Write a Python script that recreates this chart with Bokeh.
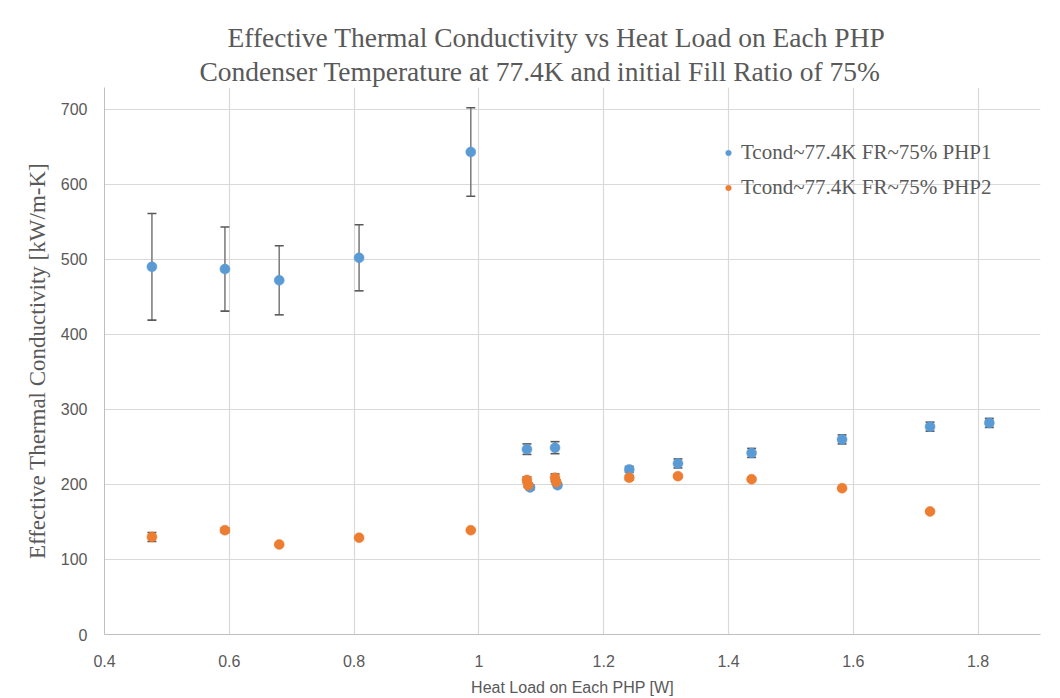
from bokeh.plotting import figure
from bokeh.models import (ColumnDataSource, Whisker, TeeHead, Legend, LegendItem,
                          Title, Range1d, FixedTicker)
from bokeh.embed import file_html
from bokeh.resources import INLINE

# ---- data ----
php1_x = [0.476, 0.593, 0.680, 0.808, 0.987, 1.077, 1.082, 1.122, 1.126, 1.241, 1.319, 1.437, 1.582, 1.723, 1.818]
php1_y = [490, 487, 472, 502, 643, 247, 196, 249, 199, 220, 228, 242, 260, 277, 282]
php1_err = [71, 56, 46, 44, 59, 7, 3, 8, 3, 4, 6, 6, 6, 6, 6]

php2_x = [0.476, 0.593, 0.680, 0.808, 0.987, 1.077, 1.079, 1.122, 1.124, 1.241, 1.319, 1.437, 1.582, 1.723]
php2_y = [130, 139, 120, 129, 139, 206, 199, 209, 203, 209, 211, 207, 195, 164]
php2_err = [6, 3, 0, 0, 0, 4, 3, 5, 3, 3, 2, 2, 0, 0]

x_ticks = [0.4, 0.6, 0.8, 1.0, 1.2, 1.4, 1.6, 1.8]
x_tick_labels = ["0.4", "0.6", "0.8", "1", "1.2", "1.4", "1.6", "1.8"]
y_ticks = [0, 100, 200, 300, 400, 500, 600, 700]

series1_name = "Tcond~77.4K FR~75% PHP1"
series2_name = "Tcond~77.4K FR~75% PHP2"
title_line1 = "Effective Thermal Conductivity vs Heat Load on Each PHP"
title_line2 = "Condenser Temperature at 77.4K and initial Fill Ratio of 75%"
x_label = "Heat Load on Each PHP [W]"
y_label = "Effective Thermal Conductivity [kW/m-K]"

BLUE = "#5B9BD5"
ORANGE = "#ED7D31"
GREY_TXT = "#595959"

src1 = ColumnDataSource(dict(x=php1_x, y=php1_y,
                             lo=[a - b for a, b in zip(php1_y, php1_err)],
                             hi=[a + b for a, b in zip(php1_y, php1_err)]))
src2 = ColumnDataSource(dict(x=php2_x, y=php2_y,
                             lo=[a - b for a, b in zip(php2_y, php2_err)],
                             hi=[a + b for a, b in zip(php2_y, php2_err)]))

p = figure(width=1060, height=698, output_backend="svg", toolbar_location=None,
           x_range=Range1d(0.4, 1.9), y_range=Range1d(0, 729),
           min_border_left=104, min_border_right=20, min_border_top=87,
           min_border_bottom=63)
p.outline_line_color = None
p.background_fill_color = "white"
p.border_fill_color = "white"

# titles (added bottom line first)
t2 = Title(text=title_line2, align="left", text_font="Liberation Serif",
           text_font_size="27.5px", text_font_style="normal", text_color=GREY_TXT,
           standoff=2, offset=95)
t1 = Title(text=title_line1, align="left", text_font="Liberation Serif",
           text_font_size="27.5px", text_font_style="normal", text_color=GREY_TXT,
           standoff=0, offset=123)
p.add_layout(t2, "above")
p.add_layout(t1, "above")

# axes
for ax in (p.xaxis[0], p.yaxis[0]):
    ax.axis_line_color = "#BFBFBF"
    ax.axis_line_width = 1
    ax.major_tick_line_color = None
    ax.minor_tick_line_color = None
    ax.major_label_text_font = "Liberation Sans"
    ax.major_label_text_font_size = "16px"
    ax.major_label_text_color = GREY_TXT

p.xaxis.ticker = FixedTicker(ticks=x_ticks)
p.xaxis.major_label_overrides = {t: l for t, l in zip(x_ticks, x_tick_labels)}
p.yaxis.ticker = FixedTicker(ticks=y_ticks)
p.xaxis.major_label_standoff = 14
p.yaxis.major_label_standoff = 11

p.xaxis.axis_label = x_label
p.xaxis.axis_label_text_font = "Liberation Sans"
p.xaxis.axis_label_text_font_size = "16px"
p.xaxis.axis_label_text_font_style = "normal"
p.xaxis.axis_label_text_color = GREY_TXT
p.xaxis.axis_label_standoff = 9

p.yaxis.axis_label = y_label
p.yaxis.axis_label_text_font = "Liberation Serif"
p.yaxis.axis_label_text_font_size = "23px"
p.yaxis.axis_label_text_font_style = "normal"
p.yaxis.axis_label_text_color = GREY_TXT
p.yaxis.axis_label_standoff = 8

p.xgrid.ticker = FixedTicker(ticks=x_ticks)
p.ygrid.ticker = FixedTicker(ticks=y_ticks)
p.xgrid.grid_line_color = "#D9D9D9"
p.ygrid.grid_line_color = "#D9D9D9"
p.xgrid.grid_line_width = 1.2
p.ygrid.grid_line_width = 1.2

# error bars
for src in (src1, src2):
    w = Whisker(source=src, base="x", upper="hi", lower="lo", dimension="height",
                line_color="#808080", line_width=1.6,
                upper_head=TeeHead(size=9, line_color="#595959", line_width=1.6),
                lower_head=TeeHead(size=9, line_color="#595959", line_width=1.6))
    p.add_layout(w)

r1 = p.scatter("x", "y", source=src1, size=10, marker="circle",
               fill_color=BLUE, line_color=BLUE, line_width=0.5)
r2 = p.scatter("x", "y", source=src2, size=10, marker="circle",
               fill_color=ORANGE, line_color=ORANGE, line_width=0.5)

legend = Legend(items=[LegendItem(label=series1_name, renderers=[r1]),
                       LegendItem(label=series2_name, renderers=[r2])],
                location=(617, 434), orientation="vertical")
legend.label_text_font = "Liberation Serif"
legend.label_text_font_size = "21px"
legend.label_text_color = GREY_TXT
legend.border_line_color = None
legend.background_fill_alpha = 0
legend.glyph_width = 14
legend.glyph_height = 21
legend.label_height = 21
legend.spacing = 10
legend.padding = 6
legend.label_standoff = 6
p.add_layout(legend, "center")

open("out.html", "w").write(file_html(p, INLINE))
